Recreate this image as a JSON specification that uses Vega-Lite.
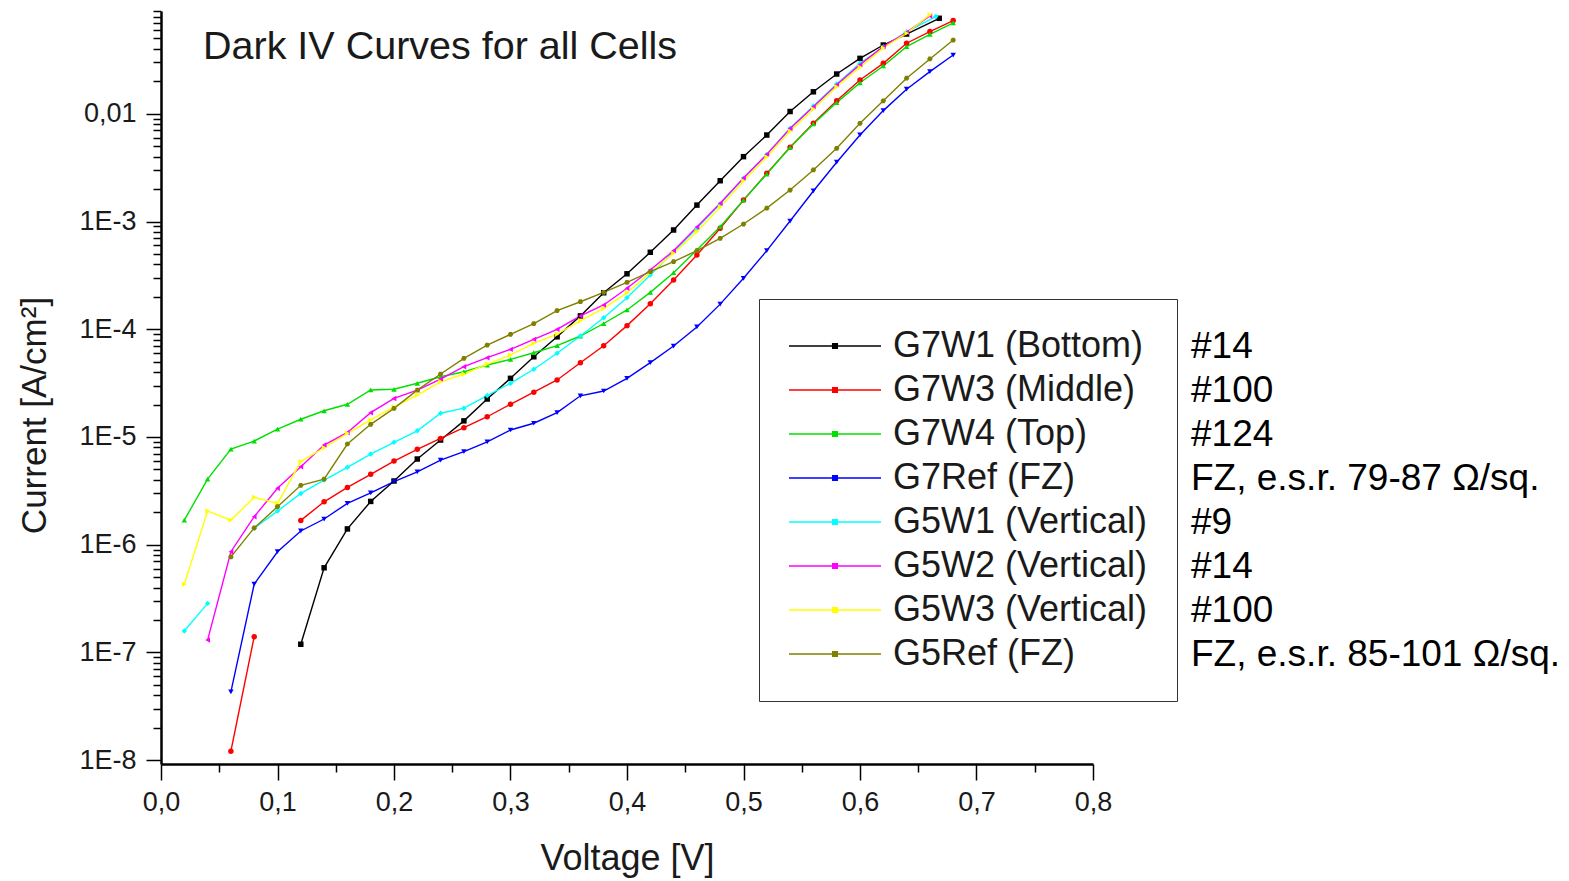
{
  "$schema": "https://vega.github.io/schema/vega-lite/v6.json",
  "width": 932,
  "height": 753,
  "autosize": {"type": "none"},
  "padding": {"left": 161, "top": 11, "right": 476, "bottom": 117},
  "background": "white",
  "config": {"view": {"stroke": null}, "font": "Liberation Sans"},
  "title": {"text": "Dark IV Curves for all Cells", "anchor": "start", "frame": "group", "orient": "top", "offset": -101, "dx": 42, "baseline": "alphabetic", "fontSize": 39.5, "fontWeight": "normal", "color": "#1a1a1a", "font": "Liberation Sans"},
  "resolve": {"legend": {"color": "independent"}},
  "data": {"values": [
    {"series": "G7W1 (Bottom)", "part": 1, "voltage": 0.12, "current": 1.19e-7},
    {"series": "G7W1 (Bottom)", "part": 1, "voltage": 0.14, "current": 6.1e-7},
    {"series": "G7W1 (Bottom)", "part": 1, "voltage": 0.16, "current": 1.40e-6},
    {"series": "G7W1 (Bottom)", "part": 1, "voltage": 0.18, "current": 2.52e-6},
    {"series": "G7W1 (Bottom)", "part": 1, "voltage": 0.20, "current": 3.90e-6},
    {"series": "G7W1 (Bottom)", "part": 1, "voltage": 0.22, "current": 6.24e-6},
    {"series": "G7W1 (Bottom)", "part": 1, "voltage": 0.24, "current": 9.36e-6},
    {"series": "G7W1 (Bottom)", "part": 1, "voltage": 0.26, "current": 1.41e-5},
    {"series": "G7W1 (Bottom)", "part": 1, "voltage": 0.28, "current": 2.25e-5},
    {"series": "G7W1 (Bottom)", "part": 1, "voltage": 0.30, "current": 3.50e-5},
    {"series": "G7W1 (Bottom)", "part": 1, "voltage": 0.32, "current": 5.55e-5},
    {"series": "G7W1 (Bottom)", "part": 1, "voltage": 0.34, "current": 8.5e-5},
    {"series": "G7W1 (Bottom)", "part": 1, "voltage": 0.36, "current": 1.33e-4},
    {"series": "G7W1 (Bottom)", "part": 1, "voltage": 0.38, "current": 2.18e-4},
    {"series": "G7W1 (Bottom)", "part": 1, "voltage": 0.40, "current": 3.27e-4},
    {"series": "G7W1 (Bottom)", "part": 1, "voltage": 0.42, "current": 5.18e-4},
    {"series": "G7W1 (Bottom)", "part": 1, "voltage": 0.44, "current": 8.34e-4},
    {"series": "G7W1 (Bottom)", "part": 1, "voltage": 0.46, "current": 1.42e-3},
    {"series": "G7W1 (Bottom)", "part": 1, "voltage": 0.48, "current": 2.39e-3},
    {"series": "G7W1 (Bottom)", "part": 1, "voltage": 0.50, "current": 4.0e-3},
    {"series": "G7W1 (Bottom)", "part": 1, "voltage": 0.52, "current": 6.35e-3},
    {"series": "G7W1 (Bottom)", "part": 1, "voltage": 0.54, "current": 1.05e-2},
    {"series": "G7W1 (Bottom)", "part": 1, "voltage": 0.56, "current": 1.60e-2},
    {"series": "G7W1 (Bottom)", "part": 1, "voltage": 0.58, "current": 2.34e-2},
    {"series": "G7W1 (Bottom)", "part": 1, "voltage": 0.60, "current": 3.27e-2},
    {"series": "G7W1 (Bottom)", "part": 1, "voltage": 0.62, "current": 4.35e-2},
    {"series": "G7W1 (Bottom)", "part": 1, "voltage": 0.64, "current": 5.5e-2},
    {"series": "G7W1 (Bottom)", "part": 1, "voltage": 0.668, "current": 7.7e-2},

    {"series": "G7W3 (Middle)", "part": 1, "voltage": 0.06, "current": 1.21e-8},
    {"series": "G7W3 (Middle)", "part": 1, "voltage": 0.08, "current": 1.40e-7},
    {"series": "G7W3 (Middle)", "part": 2, "voltage": 0.12, "current": 1.68e-6},
    {"series": "G7W3 (Middle)", "part": 2, "voltage": 0.14, "current": 2.5e-6},
    {"series": "G7W3 (Middle)", "part": 2, "voltage": 0.16, "current": 3.4e-6},
    {"series": "G7W3 (Middle)", "part": 2, "voltage": 0.18, "current": 4.5e-6},
    {"series": "G7W3 (Middle)", "part": 2, "voltage": 0.20, "current": 5.97e-6},
    {"series": "G7W3 (Middle)", "part": 2, "voltage": 0.22, "current": 7.67e-6},
    {"series": "G7W3 (Middle)", "part": 2, "voltage": 0.24, "current": 9.7e-6},
    {"series": "G7W3 (Middle)", "part": 2, "voltage": 0.26, "current": 1.22e-5},
    {"series": "G7W3 (Middle)", "part": 2, "voltage": 0.28, "current": 1.54e-5},
    {"series": "G7W3 (Middle)", "part": 2, "voltage": 0.30, "current": 2.01e-5},
    {"series": "G7W3 (Middle)", "part": 2, "voltage": 0.32, "current": 2.60e-5},
    {"series": "G7W3 (Middle)", "part": 2, "voltage": 0.34, "current": 3.38e-5},
    {"series": "G7W3 (Middle)", "part": 2, "voltage": 0.36, "current": 4.89e-5},
    {"series": "G7W3 (Middle)", "part": 2, "voltage": 0.38, "current": 7.03e-5},
    {"series": "G7W3 (Middle)", "part": 2, "voltage": 0.40, "current": 1.08e-4},
    {"series": "G7W3 (Middle)", "part": 2, "voltage": 0.42, "current": 1.72e-4},
    {"series": "G7W3 (Middle)", "part": 2, "voltage": 0.44, "current": 2.86e-4},
    {"series": "G7W3 (Middle)", "part": 2, "voltage": 0.46, "current": 4.89e-4},
    {"series": "G7W3 (Middle)", "part": 2, "voltage": 0.48, "current": 8.65e-4},
    {"series": "G7W3 (Middle)", "part": 2, "voltage": 0.50, "current": 1.58e-3},
    {"series": "G7W3 (Middle)", "part": 2, "voltage": 0.52, "current": 2.80e-3},
    {"series": "G7W3 (Middle)", "part": 2, "voltage": 0.54, "current": 4.88e-3},
    {"series": "G7W3 (Middle)", "part": 2, "voltage": 0.56, "current": 8.16e-3},
    {"series": "G7W3 (Middle)", "part": 2, "voltage": 0.58, "current": 1.32e-2},
    {"series": "G7W3 (Middle)", "part": 2, "voltage": 0.60, "current": 2.06e-2},
    {"series": "G7W3 (Middle)", "part": 2, "voltage": 0.62, "current": 2.94e-2},
    {"series": "G7W3 (Middle)", "part": 2, "voltage": 0.64, "current": 4.52e-2},
    {"series": "G7W3 (Middle)", "part": 2, "voltage": 0.66, "current": 5.8e-2},
    {"series": "G7W3 (Middle)", "part": 2, "voltage": 0.68, "current": 7.33e-2},

    {"series": "G7W4 (Top)", "part": 1, "voltage": 0.02, "current": 1.69e-6},
    {"series": "G7W4 (Top)", "part": 1, "voltage": 0.04, "current": 4.06e-6},
    {"series": "G7W4 (Top)", "part": 1, "voltage": 0.06, "current": 7.72e-6},
    {"series": "G7W4 (Top)", "part": 1, "voltage": 0.08, "current": 9.16e-6},
    {"series": "G7W4 (Top)", "part": 1, "voltage": 0.10, "current": 1.18e-5},
    {"series": "G7W4 (Top)", "part": 1, "voltage": 0.12, "current": 1.46e-5},
    {"series": "G7W4 (Top)", "part": 1, "voltage": 0.14, "current": 1.75e-5},
    {"series": "G7W4 (Top)", "part": 1, "voltage": 0.16, "current": 2.01e-5},
    {"series": "G7W4 (Top)", "part": 1, "voltage": 0.18, "current": 2.73e-5},
    {"series": "G7W4 (Top)", "part": 1, "voltage": 0.20, "current": 2.77e-5},
    {"series": "G7W4 (Top)", "part": 1, "voltage": 0.22, "current": 3.15e-5},
    {"series": "G7W4 (Top)", "part": 1, "voltage": 0.24, "current": 3.62e-5},
    {"series": "G7W4 (Top)", "part": 1, "voltage": 0.26, "current": 4.03e-5},
    {"series": "G7W4 (Top)", "part": 1, "voltage": 0.28, "current": 4.65e-5},
    {"series": "G7W4 (Top)", "part": 1, "voltage": 0.30, "current": 5.25e-5},
    {"series": "G7W4 (Top)", "part": 1, "voltage": 0.32, "current": 6.05e-5},
    {"series": "G7W4 (Top)", "part": 1, "voltage": 0.34, "current": 7.03e-5},
    {"series": "G7W4 (Top)", "part": 1, "voltage": 0.36, "current": 8.65e-5},
    {"series": "G7W4 (Top)", "part": 1, "voltage": 0.38, "current": 1.13e-4},
    {"series": "G7W4 (Top)", "part": 1, "voltage": 0.40, "current": 1.51e-4},
    {"series": "G7W4 (Top)", "part": 1, "voltage": 0.42, "current": 2.20e-4},
    {"series": "G7W4 (Top)", "part": 1, "voltage": 0.44, "current": 3.35e-4},
    {"series": "G7W4 (Top)", "part": 1, "voltage": 0.46, "current": 5.44e-4},
    {"series": "G7W4 (Top)", "part": 1, "voltage": 0.48, "current": 8.95e-4},
    {"series": "G7W4 (Top)", "part": 1, "voltage": 0.50, "current": 1.58e-3},
    {"series": "G7W4 (Top)", "part": 1, "voltage": 0.52, "current": 2.76e-3},
    {"series": "G7W4 (Top)", "part": 1, "voltage": 0.54, "current": 4.88e-3},
    {"series": "G7W4 (Top)", "part": 1, "voltage": 0.56, "current": 8.04e-3},
    {"series": "G7W4 (Top)", "part": 1, "voltage": 0.58, "current": 1.27e-2},
    {"series": "G7W4 (Top)", "part": 1, "voltage": 0.60, "current": 1.94e-2},
    {"series": "G7W4 (Top)", "part": 1, "voltage": 0.62, "current": 2.78e-2},
    {"series": "G7W4 (Top)", "part": 1, "voltage": 0.64, "current": 4.2e-2},
    {"series": "G7W4 (Top)", "part": 1, "voltage": 0.66, "current": 5.47e-2},
    {"series": "G7W4 (Top)", "part": 1, "voltage": 0.68, "current": 7.0e-2},

    {"series": "G7Ref (FZ)", "part": 1, "voltage": 0.06, "current": 4.3e-8},
    {"series": "G7Ref (FZ)", "part": 1, "voltage": 0.08, "current": 4.3e-7},
    {"series": "G7Ref (FZ)", "part": 1, "voltage": 0.10, "current": 8.6e-7},
    {"series": "G7Ref (FZ)", "part": 1, "voltage": 0.12, "current": 1.34e-6},
    {"series": "G7Ref (FZ)", "part": 1, "voltage": 0.14, "current": 1.73e-6},
    {"series": "G7Ref (FZ)", "part": 1, "voltage": 0.16, "current": 2.42e-6},
    {"series": "G7Ref (FZ)", "part": 1, "voltage": 0.18, "current": 3.03e-6},
    {"series": "G7Ref (FZ)", "part": 1, "voltage": 0.20, "current": 3.84e-6},
    {"series": "G7Ref (FZ)", "part": 1, "voltage": 0.22, "current": 4.75e-6},
    {"series": "G7Ref (FZ)", "part": 1, "voltage": 0.24, "current": 6.1e-6},
    {"series": "G7Ref (FZ)", "part": 1, "voltage": 0.26, "current": 7.3e-6},
    {"series": "G7Ref (FZ)", "part": 1, "voltage": 0.28, "current": 9.0e-6},
    {"series": "G7Ref (FZ)", "part": 1, "voltage": 0.30, "current": 1.16e-5},
    {"series": "G7Ref (FZ)", "part": 1, "voltage": 0.32, "current": 1.34e-5},
    {"series": "G7Ref (FZ)", "part": 1, "voltage": 0.34, "current": 1.68e-5},
    {"series": "G7Ref (FZ)", "part": 1, "voltage": 0.36, "current": 2.41e-5},
    {"series": "G7Ref (FZ)", "part": 1, "voltage": 0.38, "current": 2.67e-5},
    {"series": "G7Ref (FZ)", "part": 1, "voltage": 0.40, "current": 3.50e-5},
    {"series": "G7Ref (FZ)", "part": 1, "voltage": 0.42, "current": 4.89e-5},
    {"series": "G7Ref (FZ)", "part": 1, "voltage": 0.44, "current": 6.98e-5},
    {"series": "G7Ref (FZ)", "part": 1, "voltage": 0.46, "current": 1.05e-4},
    {"series": "G7Ref (FZ)", "part": 1, "voltage": 0.48, "current": 1.71e-4},
    {"series": "G7Ref (FZ)", "part": 1, "voltage": 0.50, "current": 2.97e-4},
    {"series": "G7Ref (FZ)", "part": 1, "voltage": 0.52, "current": 5.36e-4},
    {"series": "G7Ref (FZ)", "part": 1, "voltage": 0.54, "current": 1.01e-3},
    {"series": "G7Ref (FZ)", "part": 1, "voltage": 0.56, "current": 1.92e-3},
    {"series": "G7Ref (FZ)", "part": 1, "voltage": 0.58, "current": 3.55e-3},
    {"series": "G7Ref (FZ)", "part": 1, "voltage": 0.60, "current": 6.36e-3},
    {"series": "G7Ref (FZ)", "part": 1, "voltage": 0.62, "current": 1.07e-2},
    {"series": "G7Ref (FZ)", "part": 1, "voltage": 0.64, "current": 1.69e-2},
    {"series": "G7Ref (FZ)", "part": 1, "voltage": 0.66, "current": 2.46e-2},
    {"series": "G7Ref (FZ)", "part": 1, "voltage": 0.68, "current": 3.51e-2},

    {"series": "G5W1 (Vertical)", "part": 1, "voltage": 0.02, "current": 1.58e-7},
    {"series": "G5W1 (Vertical)", "part": 1, "voltage": 0.04, "current": 2.85e-7},
    {"series": "G5W1 (Vertical)", "part": 2, "voltage": 0.08, "current": 1.42e-6},
    {"series": "G5W1 (Vertical)", "part": 2, "voltage": 0.10, "current": 2.05e-6},
    {"series": "G5W1 (Vertical)", "part": 2, "voltage": 0.12, "current": 2.99e-6},
    {"series": "G5W1 (Vertical)", "part": 2, "voltage": 0.14, "current": 3.98e-6},
    {"series": "G5W1 (Vertical)", "part": 2, "voltage": 0.16, "current": 5.22e-6},
    {"series": "G5W1 (Vertical)", "part": 2, "voltage": 0.18, "current": 6.94e-6},
    {"series": "G5W1 (Vertical)", "part": 2, "voltage": 0.20, "current": 8.91e-6},
    {"series": "G5W1 (Vertical)", "part": 2, "voltage": 0.22, "current": 1.14e-5},
    {"series": "G5W1 (Vertical)", "part": 2, "voltage": 0.24, "current": 1.66e-5},
    {"series": "G5W1 (Vertical)", "part": 2, "voltage": 0.26, "current": 1.85e-5},
    {"series": "G5W1 (Vertical)", "part": 2, "voltage": 0.28, "current": 2.42e-5},
    {"series": "G5W1 (Vertical)", "part": 2, "voltage": 0.30, "current": 3.15e-5},
    {"series": "G5W1 (Vertical)", "part": 2, "voltage": 0.32, "current": 4.25e-5},
    {"series": "G5W1 (Vertical)", "part": 2, "voltage": 0.34, "current": 5.98e-5},
    {"series": "G5W1 (Vertical)", "part": 2, "voltage": 0.36, "current": 8.65e-5},
    {"series": "G5W1 (Vertical)", "part": 2, "voltage": 0.38, "current": 1.28e-4},
    {"series": "G5W1 (Vertical)", "part": 2, "voltage": 0.40, "current": 1.96e-4},
    {"series": "G5W1 (Vertical)", "part": 2, "voltage": 0.42, "current": 3.19e-4},
    {"series": "G5W1 (Vertical)", "part": 2, "voltage": 0.44, "current": 5.25e-4},
    {"series": "G5W1 (Vertical)", "part": 2, "voltage": 0.46, "current": 8.65e-4},
    {"series": "G5W1 (Vertical)", "part": 2, "voltage": 0.48, "current": 1.45e-3},
    {"series": "G5W1 (Vertical)", "part": 2, "voltage": 0.50, "current": 2.52e-3},
    {"series": "G5W1 (Vertical)", "part": 2, "voltage": 0.52, "current": 4.2e-3},
    {"series": "G5W1 (Vertical)", "part": 2, "voltage": 0.54, "current": 7.33e-3},
    {"series": "G5W1 (Vertical)", "part": 2, "voltage": 0.56, "current": 1.18e-2},
    {"series": "G5W1 (Vertical)", "part": 2, "voltage": 0.58, "current": 1.89e-2},
    {"series": "G5W1 (Vertical)", "part": 2, "voltage": 0.60, "current": 2.94e-2},
    {"series": "G5W1 (Vertical)", "part": 2, "voltage": 0.62, "current": 4.17e-2},
    {"series": "G5W1 (Vertical)", "part": 2, "voltage": 0.64, "current": 5.75e-2},
    {"series": "G5W1 (Vertical)", "part": 2, "voltage": 0.665, "current": 8.0e-2},

    {"series": "G5W2 (Vertical)", "part": 1, "voltage": 0.04, "current": 1.30e-7},
    {"series": "G5W2 (Vertical)", "part": 1, "voltage": 0.06, "current": 8.6e-7},
    {"series": "G5W2 (Vertical)", "part": 1, "voltage": 0.08, "current": 1.82e-6},
    {"series": "G5W2 (Vertical)", "part": 1, "voltage": 0.10, "current": 3.34e-6},
    {"series": "G5W2 (Vertical)", "part": 1, "voltage": 0.12, "current": 5.28e-6},
    {"series": "G5W2 (Vertical)", "part": 1, "voltage": 0.14, "current": 8.41e-6},
    {"series": "G5W2 (Vertical)", "part": 1, "voltage": 0.16, "current": 1.10e-5},
    {"series": "G5W2 (Vertical)", "part": 1, "voltage": 0.18, "current": 1.68e-5},
    {"series": "G5W2 (Vertical)", "part": 1, "voltage": 0.20, "current": 2.28e-5},
    {"series": "G5W2 (Vertical)", "part": 1, "voltage": 0.22, "current": 2.72e-5},
    {"series": "G5W2 (Vertical)", "part": 1, "voltage": 0.24, "current": 3.45e-5},
    {"series": "G5W2 (Vertical)", "part": 1, "voltage": 0.26, "current": 4.49e-5},
    {"series": "G5W2 (Vertical)", "part": 1, "voltage": 0.28, "current": 5.44e-5},
    {"series": "G5W2 (Vertical)", "part": 1, "voltage": 0.30, "current": 6.5e-5},
    {"series": "G5W2 (Vertical)", "part": 1, "voltage": 0.32, "current": 8.05e-5},
    {"series": "G5W2 (Vertical)", "part": 1, "voltage": 0.34, "current": 9.97e-5},
    {"series": "G5W2 (Vertical)", "part": 1, "voltage": 0.36, "current": 1.33e-4},
    {"series": "G5W2 (Vertical)", "part": 1, "voltage": 0.38, "current": 1.68e-4},
    {"series": "G5W2 (Vertical)", "part": 1, "voltage": 0.40, "current": 2.40e-4},
    {"series": "G5W2 (Vertical)", "part": 1, "voltage": 0.42, "current": 3.55e-4},
    {"series": "G5W2 (Vertical)", "part": 1, "voltage": 0.44, "current": 5.36e-4},
    {"series": "G5W2 (Vertical)", "part": 1, "voltage": 0.46, "current": 8.9e-4},
    {"series": "G5W2 (Vertical)", "part": 1, "voltage": 0.48, "current": 1.48e-3},
    {"series": "G5W2 (Vertical)", "part": 1, "voltage": 0.50, "current": 2.53e-3},
    {"series": "G5W2 (Vertical)", "part": 1, "voltage": 0.52, "current": 4.2e-3},
    {"series": "G5W2 (Vertical)", "part": 1, "voltage": 0.54, "current": 7.3e-3},
    {"series": "G5W2 (Vertical)", "part": 1, "voltage": 0.56, "current": 1.16e-2},
    {"series": "G5W2 (Vertical)", "part": 1, "voltage": 0.58, "current": 1.86e-2},
    {"series": "G5W2 (Vertical)", "part": 1, "voltage": 0.60, "current": 2.86e-2},
    {"series": "G5W2 (Vertical)", "part": 1, "voltage": 0.62, "current": 4.2e-2},
    {"series": "G5W2 (Vertical)", "part": 1, "voltage": 0.64, "current": 5.7e-2},
    {"series": "G5W2 (Vertical)", "part": 1, "voltage": 0.66, "current": 8.1e-2},

    {"series": "G5W3 (Vertical)", "part": 1, "voltage": 0.02, "current": 4.3e-7},
    {"series": "G5W3 (Vertical)", "part": 1, "voltage": 0.04, "current": 2.05e-6},
    {"series": "G5W3 (Vertical)", "part": 1, "voltage": 0.06, "current": 1.69e-6},
    {"series": "G5W3 (Vertical)", "part": 1, "voltage": 0.08, "current": 2.75e-6},
    {"series": "G5W3 (Vertical)", "part": 1, "voltage": 0.10, "current": 2.42e-6},
    {"series": "G5W3 (Vertical)", "part": 1, "voltage": 0.12, "current": 5.9e-6},
    {"series": "G5W3 (Vertical)", "part": 1, "voltage": 0.14, "current": 7.94e-6},
    {"series": "G5W3 (Vertical)", "part": 1, "voltage": 0.16, "current": 1.08e-5},
    {"series": "G5W3 (Vertical)", "part": 1, "voltage": 0.18, "current": 1.44e-5},
    {"series": "G5W3 (Vertical)", "part": 1, "voltage": 0.20, "current": 1.9e-5},
    {"series": "G5W3 (Vertical)", "part": 1, "voltage": 0.22, "current": 2.45e-5},
    {"series": "G5W3 (Vertical)", "part": 1, "voltage": 0.24, "current": 3.25e-5},
    {"series": "G5W3 (Vertical)", "part": 1, "voltage": 0.26, "current": 3.84e-5},
    {"series": "G5W3 (Vertical)", "part": 1, "voltage": 0.28, "current": 4.75e-5},
    {"series": "G5W3 (Vertical)", "part": 1, "voltage": 0.30, "current": 5.77e-5},
    {"series": "G5W3 (Vertical)", "part": 1, "voltage": 0.32, "current": 7.4e-5},
    {"series": "G5W3 (Vertical)", "part": 1, "voltage": 0.34, "current": 9.0e-5},
    {"series": "G5W3 (Vertical)", "part": 1, "voltage": 0.36, "current": 1.20e-4},
    {"series": "G5W3 (Vertical)", "part": 1, "voltage": 0.38, "current": 1.56e-4},
    {"series": "G5W3 (Vertical)", "part": 1, "voltage": 0.40, "current": 2.18e-4},
    {"series": "G5W3 (Vertical)", "part": 1, "voltage": 0.42, "current": 3.35e-4},
    {"series": "G5W3 (Vertical)", "part": 1, "voltage": 0.44, "current": 5.07e-4},
    {"series": "G5W3 (Vertical)", "part": 1, "voltage": 0.46, "current": 8.04e-4},
    {"series": "G5W3 (Vertical)", "part": 1, "voltage": 0.48, "current": 1.36e-3},
    {"series": "G5W3 (Vertical)", "part": 1, "voltage": 0.50, "current": 2.38e-3},
    {"series": "G5W3 (Vertical)", "part": 1, "voltage": 0.52, "current": 3.97e-3},
    {"series": "G5W3 (Vertical)", "part": 1, "voltage": 0.54, "current": 6.9e-3},
    {"series": "G5W3 (Vertical)", "part": 1, "voltage": 0.56, "current": 1.11e-2},
    {"series": "G5W3 (Vertical)", "part": 1, "voltage": 0.58, "current": 1.78e-2},
    {"series": "G5W3 (Vertical)", "part": 1, "voltage": 0.60, "current": 2.71e-2},
    {"series": "G5W3 (Vertical)", "part": 1, "voltage": 0.62, "current": 4.08e-2},
    {"series": "G5W3 (Vertical)", "part": 1, "voltage": 0.64, "current": 5.6e-2},
    {"series": "G5W3 (Vertical)", "part": 1, "voltage": 0.66, "current": 8.3e-2},

    {"series": "G5Ref (FZ)", "part": 1, "voltage": 0.06, "current": 7.7e-7},
    {"series": "G5Ref (FZ)", "part": 1, "voltage": 0.08, "current": 1.43e-6},
    {"series": "G5Ref (FZ)", "part": 1, "voltage": 0.10, "current": 2.25e-6},
    {"series": "G5Ref (FZ)", "part": 1, "voltage": 0.12, "current": 3.56e-6},
    {"series": "G5Ref (FZ)", "part": 1, "voltage": 0.14, "current": 4.06e-6},
    {"series": "G5Ref (FZ)", "part": 1, "voltage": 0.16, "current": 8.6e-6},
    {"series": "G5Ref (FZ)", "part": 1, "voltage": 0.18, "current": 1.31e-5},
    {"series": "G5Ref (FZ)", "part": 1, "voltage": 0.20, "current": 1.84e-5},
    {"series": "G5Ref (FZ)", "part": 1, "voltage": 0.22, "current": 2.72e-5},
    {"series": "G5Ref (FZ)", "part": 1, "voltage": 0.24, "current": 3.84e-5},
    {"series": "G5Ref (FZ)", "part": 1, "voltage": 0.26, "current": 5.37e-5},
    {"series": "G5Ref (FZ)", "part": 1, "voltage": 0.28, "current": 7.13e-5},
    {"series": "G5Ref (FZ)", "part": 1, "voltage": 0.30, "current": 8.95e-5},
    {"series": "G5Ref (FZ)", "part": 1, "voltage": 0.32, "current": 1.13e-4},
    {"series": "G5Ref (FZ)", "part": 1, "voltage": 0.34, "current": 1.49e-4},
    {"series": "G5Ref (FZ)", "part": 1, "voltage": 0.36, "current": 1.80e-4},
    {"series": "G5Ref (FZ)", "part": 1, "voltage": 0.38, "current": 2.20e-4},
    {"series": "G5Ref (FZ)", "part": 1, "voltage": 0.40, "current": 2.72e-4},
    {"series": "G5Ref (FZ)", "part": 1, "voltage": 0.42, "current": 3.42e-4},
    {"series": "G5Ref (FZ)", "part": 1, "voltage": 0.44, "current": 4.24e-4},
    {"series": "G5Ref (FZ)", "part": 1, "voltage": 0.46, "current": 5.36e-4},
    {"series": "G5Ref (FZ)", "part": 1, "voltage": 0.48, "current": 6.98e-4},
    {"series": "G5Ref (FZ)", "part": 1, "voltage": 0.50, "current": 9.48e-4},
    {"series": "G5Ref (FZ)", "part": 1, "voltage": 0.52, "current": 1.33e-3},
    {"series": "G5Ref (FZ)", "part": 1, "voltage": 0.54, "current": 1.96e-3},
    {"series": "G5Ref (FZ)", "part": 1, "voltage": 0.56, "current": 3.01e-3},
    {"series": "G5Ref (FZ)", "part": 1, "voltage": 0.58, "current": 4.78e-3},
    {"series": "G5Ref (FZ)", "part": 1, "voltage": 0.60, "current": 8.16e-3},
    {"series": "G5Ref (FZ)", "part": 1, "voltage": 0.62, "current": 1.32e-2},
    {"series": "G5Ref (FZ)", "part": 1, "voltage": 0.64, "current": 2.14e-2},
    {"series": "G5Ref (FZ)", "part": 1, "voltage": 0.66, "current": 3.23e-2},
    {"series": "G5Ref (FZ)", "part": 1, "voltage": 0.68, "current": 4.84e-2}
  ]},
  "encoding": {
    "x": {
      "field": "voltage", "type": "quantitative",
      "scale": {"domain": [0, 0.8], "nice": false, "zero": false},
      "axis": {
        "title": "Voltage [V]",
        "values": [0, 0.05, 0.1, 0.15, 0.2, 0.25, 0.3, 0.35, 0.4, 0.45, 0.5, 0.55, 0.6, 0.65, 0.7, 0.75, 0.8],
        "labelExpr": "round(datum.value*100) % 10 == 0 ? replace(format(datum.value, '.1f'), '.', ',') : ''",
        "tickSize": {"condition": {"test": "round(datum.value*100) % 10 == 0", "value": 16}, "value": 8},
        "grid": false,
        "domainColor": "#000000", "domainWidth": 2.5,
        "tickColor": "#000000", "tickWidth": 1.5,
        "labelFont": "Liberation Sans", "labelFontSize": 27, "labelColor": "#1a1a1a", "labelPadding": 9,
        "labelFlush": false, "labelOverlap": false,
        "titleFont": "Liberation Sans", "titleFontSize": 36, "titleFontWeight": "normal", "titleColor": "#1a1a1a", "titlePadding": 26
      }
    },
    "y": {
      "field": "current", "type": "quantitative",
      "scale": {"type": "log", "domain": [9.2e-9, 0.09], "nice": false},
      "axis": {
        "title": "Current [A/cm²]",
        "values": [1e-8, 2e-8, 3e-8, 4e-8, 5e-8, 6e-8, 7e-8, 8e-8, 9e-8,
                   1e-7, 2e-7, 3e-7, 4e-7, 5e-7, 6e-7, 7e-7, 8e-7, 9e-7,
                   1e-6, 2e-6, 3e-6, 4e-6, 5e-6, 6e-6, 7e-6, 8e-6, 9e-6,
                   1e-5, 2e-5, 3e-5, 4e-5, 5e-5, 6e-5, 7e-5, 8e-5, 9e-5,
                   1e-4, 2e-4, 3e-4, 4e-4, 5e-4, 6e-4, 7e-4, 8e-4, 9e-4,
                   1e-3, 2e-3, 3e-3, 4e-3, 5e-3, 6e-3, 7e-3, 8e-3, 9e-3,
                   0.01, 0.02, 0.03, 0.04, 0.05, 0.06, 0.07, 0.08, 0.09],
        "labelExpr": "abs(log(datum.value)/LN10 - round(log(datum.value)/LN10)) < 0.001 ? (datum.value > 0.005 ? '0,01' : '1E-' + round(-log(datum.value)/LN10)) : ''",
        "tickSize": {"condition": {"test": "abs(log(datum.value)/LN10 - round(log(datum.value)/LN10)) < 0.001", "value": 15}, "value": 8},
        "grid": false,
        "domainColor": "#000000", "domainWidth": 2.5,
        "tickColor": "#000000", "tickWidth": 1.5,
        "labelFont": "Liberation Sans", "labelFontSize": 27, "labelColor": "#1a1a1a", "labelPadding": 10,
        "labelFlush": false, "labelOverlap": false,
        "titleFont": "Liberation Sans", "titleFontSize": 35, "titleFontWeight": "normal", "titleColor": "#1a1a1a",
        "titleX": -127, "titleY": 404, "titleBaseline": "middle", "titleAngle": -90
      }
    }
  },
  "layer": [
    {
      "mark": {"type": "line", "strokeWidth": 1.4},
      "encoding": {
        "detail": {"field": "part", "type": "nominal"},
        "color": {
          "field": "series", "type": "nominal",
          "scale": {
            "domain": ["G7W1 (Bottom)", "G7W3 (Middle)", "G7W4 (Top)", "G7Ref (FZ)", "G5W1 (Vertical)", "G5W2 (Vertical)", "G5W3 (Vertical)", "G5Ref (FZ)"],
            "range": ["#000000", "#ff0000", "#00e000", "#0000ff", "#00ffff", "#ff00ff", "#ffff00", "#808000"]
          },
          "legend": {
            "orient": "none", "legendX": 598, "legendY": 288, "title": null,
            "symbolType": "M-1,0H1M-0.05,-0.05H0.05V0.05H-0.05Z",
            "symbolSize": 8464, "symbolStrokeWidth": 1.5, "clipHeight": 36,
            "labelFont": "Liberation Sans", "labelFontSize": 36, "labelColor": "#1a1a1a", "labelOffset": 11, "labelLimit": 600,
            "rowPadding": 8, "padding": 29, "strokeColor": "#333333", "fillColor": "#ffffff",
            "encode": {"symbols": {"update": {"fill": {"scale": "color", "field": "value"}}}}
          }
        },
        "opacity": {
          "field": "series", "type": "ordinal",
          "sort": ["G7W1 (Bottom)", "G7W3 (Middle)", "G7W4 (Top)", "G7Ref (FZ)", "G5W1 (Vertical)", "G5W2 (Vertical)", "G5W3 (Vertical)", "G5Ref (FZ)"],
          "scale": {"range": [1, 1, 1, 1, 1, 1, 1, 1]},
          "legend": {
            "orient": "none", "legendX": 993, "legendY": 317, "title": null,
            "symbolSize": 0, "symbolOpacity": 0, "symbolStrokeWidth": 0, "labelOffset": 0,
            "labelFont": "Liberation Sans", "labelFontSize": 37, "labelColor": "#000000", "labelLimit": 600,
            "rowPadding": 6, "padding": 0,
            "labelExpr": "datum.label == 'G7W1 (Bottom)' ? '#14' : datum.label == 'G7W3 (Middle)' ? '#100' : datum.label == 'G7W4 (Top)' ? '#124' : datum.label == 'G7Ref (FZ)' ? 'FZ, e.s.r. 79-87 Ω/sq.' : datum.label == 'G5W1 (Vertical)' ? '\u00a0#9' : datum.label == 'G5W2 (Vertical)' ? '\u00a0#14' : datum.label == 'G5W3 (Vertical)' ? '\u00a0#100' : '\u00a0FZ, e.s.r. 85-101 Ω/sq.'"
          }
        }
      }
    },
    {
      "mark": {"type": "point", "filled": true, "size": 30, "opacity": 1},
      "encoding": {
        "color": {"field": "series", "type": "nominal", "legend": null},
        "shape": {
          "field": "series", "type": "nominal",
          "scale": {
            "domain": ["G7W1 (Bottom)", "G7W3 (Middle)", "G7W4 (Top)", "G7Ref (FZ)", "G5W1 (Vertical)", "G5W2 (Vertical)", "G5W3 (Vertical)", "G5Ref (FZ)"],
            "range": ["square", "circle", "triangle-up", "triangle-down", "diamond", "triangle-left", "triangle-right", "M-1,0L-0.5,-0.866L0.5,-0.866L1,0L0.5,0.866L-0.5,0.866Z"]
          },
          "legend": null
        }
      }
    }
  ]
}
